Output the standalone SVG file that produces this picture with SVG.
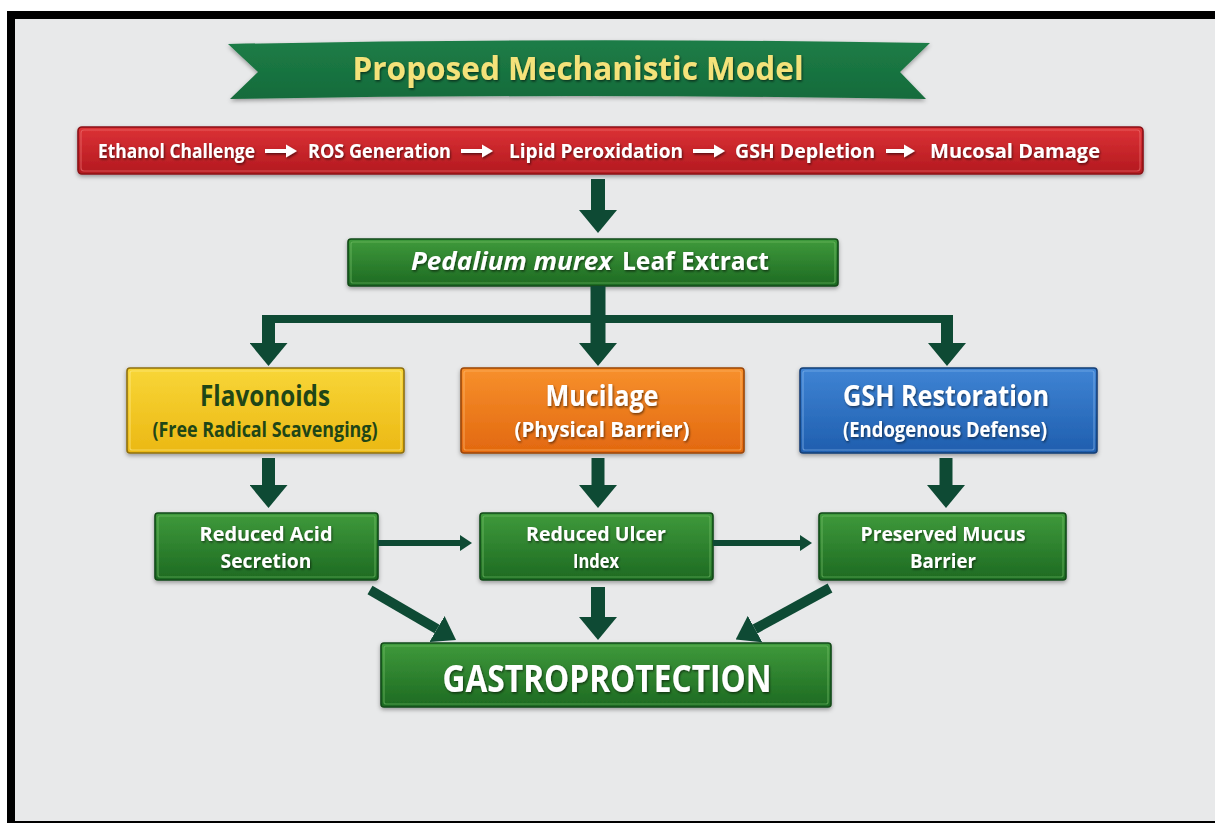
<svg xmlns="http://www.w3.org/2000/svg" width="1215" height="823" viewBox="0 0 1215 823">
  <defs>
    <linearGradient id="gGreen" x1="0" y1="0" x2="0" y2="1">
      <stop offset="0" stop-color="#3f9a3b"/>
      <stop offset="1" stop-color="#1d6a22"/>
    </linearGradient>
    <linearGradient id="gRed" x1="0" y1="0" x2="0" y2="1">
      <stop offset="0" stop-color="#dc3236"/>
      <stop offset="1" stop-color="#b3191f"/>
    </linearGradient>
    <linearGradient id="gYellow" x1="0" y1="0" x2="0" y2="1">
      <stop offset="0" stop-color="#f8d637"/>
      <stop offset="1" stop-color="#ebb814"/>
    </linearGradient>
    <linearGradient id="gOrange" x1="0" y1="0" x2="0" y2="1">
      <stop offset="0" stop-color="#f7902c"/>
      <stop offset="1" stop-color="#e2680f"/>
    </linearGradient>
    <linearGradient id="gBlue" x1="0" y1="0" x2="0" y2="1">
      <stop offset="0" stop-color="#3f84d4"/>
      <stop offset="1" stop-color="#1f5eae"/>
    </linearGradient>
    <linearGradient id="gBanner" x1="0" y1="0" x2="0" y2="1">
      <stop offset="0" stop-color="#1d7d47"/>
      <stop offset="1" stop-color="#156b3b"/>
    </linearGradient>
    <filter id="shadow" x="-10%" y="-20%" width="120%" height="150%">
      <feDropShadow dx="0" dy="2" stdDeviation="2" flood-color="#000" flood-opacity="0.35"/>
    </filter>
    <filter id="tshadow" x="-5%" y="-30%" width="110%" height="160%">
      <feDropShadow dx="1" dy="1.5" stdDeviation="0.8" flood-color="#000" flood-opacity="0.55"/>
    </filter>
    <marker id="headBig" viewBox="0 0 23 38" refX="0" refY="19" markerWidth="23" markerHeight="38" markerUnits="userSpaceOnUse" orient="auto">
      <path d="M0,0 L23,19 L0,38 Z" fill="#0e4a34"/>
    </marker>
    <marker id="headDiag" viewBox="0 0 22 30" refX="0" refY="15" markerWidth="22" markerHeight="30" markerUnits="userSpaceOnUse" orient="auto">
      <path d="M0,0 L22,15 L0,30 Z" fill="#0e4a34"/>
    </marker>
    <marker id="headThin" viewBox="0 0 12 16" refX="0" refY="8" markerWidth="12" markerHeight="16" markerUnits="userSpaceOnUse" orient="auto">
      <path d="M0,0 L12,8 L0,16 Z" fill="#0e4a34"/>
    </marker>
    <style>
      .bg { fill: #e8e9ea; }
      .frame { fill: #000; }
      .t { font-family: "Open Sans", "Liberation Sans", sans-serif; font-weight: 700; }
      .w { fill: #ffffff; filter: url(#tshadow); }
      .dk { fill: #1f4617; }
      .box { stroke-width: 1.6; filter: url(#shadow); }
      .hl { fill: none; stroke-width: 1.2; opacity: 0.55; }
      .green { fill: url(#gGreen); stroke: #124a18; }
      .greenhl { stroke: #7cc46f; }
      .arr { stroke: #0e4a34; fill: none; }
      .warr { fill: #ffffff; filter: url(#tshadow); }
    </style>
  </defs>

  <!-- background and frame -->
  <rect class="bg" x="0" y="0" width="1215" height="823"/>
  <rect x="0" y="0" width="1215" height="11" fill="#ffffff"/>
  <rect x="0" y="0" width="7" height="823" fill="#ffffff"/>
  <rect class="frame" x="7" y="11" width="1208" height="8"/>
  <rect class="frame" x="7" y="11" width="8" height="812"/>
  <rect class="frame" x="7" y="821" width="1208" height="2"/>

  <!-- title banner -->
  <g id="title">
    <path d="M228,44 Q579,37 930,43 L900,72 L926,99 Q579,93 230,99 L258,72 Z" fill="url(#gBanner)" filter="url(#shadow)"/>
    <text class="t" x="578" y="80" text-anchor="middle" font-size="32" textLength="451" lengthAdjust="spacingAndGlyphs" fill="#f4e27a" filter="url(#tshadow)">Proposed Mechanistic Model</text>
  </g>

  <!-- challenge chain -->
  <g id="challenge">
    <rect class="box" x="78" y="127" width="1065" height="47" rx="4" fill="url(#gRed)" stroke="#8a1217"/>
    <rect class="hl" x="81" y="130" width="1059" height="41" rx="3" stroke="#f07a7a"/>
    <text class="t w" y="158" font-size="20">
      <tspan x="98" textLength="157" lengthAdjust="spacingAndGlyphs">Ethanol Challenge</tspan>
      <tspan x="308" textLength="143" lengthAdjust="spacingAndGlyphs">ROS Generation</tspan>
      <tspan x="509" textLength="174" lengthAdjust="spacingAndGlyphs">Lipid Peroxidation</tspan>
      <tspan x="735" textLength="140" lengthAdjust="spacingAndGlyphs">GSH Depletion</tspan>
      <tspan x="930" textLength="170" lengthAdjust="spacingAndGlyphs">Mucosal Damage</tspan>
    </text>
    <path class="warr" d="M265,149 H286 V144.5 L297,151 L286,157.5 V153 H265 Z"/>
    <path class="warr" d="M461,149 H482 V144.5 L493,151 L482,157.5 V153 H461 Z"/>
    <path class="warr" d="M693,149 H714 V144.5 L725,151 L714,157.5 V153 H693 Z"/>
    <path class="warr" d="M886,149 H904 V144.5 L915,151 L904,157.5 V153 H886 Z"/>
  </g>

  <!-- extract -->
  <g id="extract">
    <rect class="box green" x="348" y="239" width="490" height="47" rx="3"/>
    <rect class="hl greenhl" x="351" y="242" width="484" height="41" rx="2"/>
    <text class="t w" y="270" font-size="25">
      <tspan x="411" font-style="italic" textLength="201" lengthAdjust="spacingAndGlyphs">Pedalium murex</tspan>
      <tspan x="622" textLength="147" lengthAdjust="spacingAndGlyphs">Leaf Extract</tspan>
    </text>
  </g>

  <!-- mechanism boxes -->
  <g id="flavonoids">
    <rect class="box" x="127" y="368" width="277" height="85" rx="3" fill="url(#gYellow)" stroke="#8f7010"/>
    <rect class="hl" x="130" y="371" width="271" height="79" rx="2" stroke="#fff09a"/>
    <text class="t dk" x="265" y="406" font-size="28" text-anchor="middle" textLength="130" lengthAdjust="spacingAndGlyphs">Flavonoids</text>
    <text class="t dk" x="265" y="437" font-size="21" text-anchor="middle" textLength="225" lengthAdjust="spacingAndGlyphs">(Free Radical Scavenging)</text>
  </g>
  <g id="mucilage">
    <rect class="box" x="461" y="368" width="283" height="85" rx="3" fill="url(#gOrange)" stroke="#9c4608"/>
    <rect class="hl" x="464" y="371" width="277" height="79" rx="2" stroke="#ffc07a"/>
    <text class="t w" x="602" y="406" font-size="28" text-anchor="middle" textLength="113" lengthAdjust="spacingAndGlyphs">Mucilage</text>
    <text class="t w" x="602" y="437" font-size="21" text-anchor="middle" textLength="175" lengthAdjust="spacingAndGlyphs">(Physical Barrier)</text>
  </g>
  <g id="gsh">
    <rect class="box" x="800" y="368" width="297" height="85" rx="3" fill="url(#gBlue)" stroke="#163f76"/>
    <rect class="hl" x="803" y="371" width="291" height="79" rx="2" stroke="#8fbdf0"/>
    <text class="t w" x="946" y="406" font-size="28" text-anchor="middle" textLength="206" lengthAdjust="spacingAndGlyphs">GSH Restoration</text>
    <text class="t w" x="945" y="437" font-size="21" text-anchor="middle" textLength="204" lengthAdjust="spacingAndGlyphs">(Endogenous Defense)</text>
  </g>

  <!-- outcome boxes -->
  <g id="acid">
    <rect class="box green" x="155" y="513" width="223" height="67" rx="3"/>
    <rect class="hl greenhl" x="158" y="516" width="217" height="61" rx="2"/>
    <text class="t w" x="266" y="541" font-size="19.5" text-anchor="middle" textLength="133" lengthAdjust="spacingAndGlyphs">Reduced Acid</text>
    <text class="t w" x="266" y="568" font-size="19.5" text-anchor="middle" textLength="91" lengthAdjust="spacingAndGlyphs">Secretion</text>
  </g>
  <g id="ulcer">
    <rect class="box green" x="480" y="513" width="233" height="67" rx="3"/>
    <rect class="hl greenhl" x="483" y="516" width="227" height="61" rx="2"/>
    <text class="t w" x="596" y="541" font-size="19.5" text-anchor="middle" textLength="140" lengthAdjust="spacingAndGlyphs">Reduced Ulcer</text>
    <text class="t w" x="596" y="568" font-size="19.5" text-anchor="middle" textLength="46" lengthAdjust="spacingAndGlyphs">Index</text>
  </g>
  <g id="mucus">
    <rect class="box green" x="819" y="513" width="247" height="67" rx="3"/>
    <rect class="hl greenhl" x="822" y="516" width="241" height="61" rx="2"/>
    <text class="t w" x="943" y="541" font-size="19.5" text-anchor="middle" textLength="165" lengthAdjust="spacingAndGlyphs">Preserved Mucus</text>
    <text class="t w" x="943" y="568" font-size="19.5" text-anchor="middle" textLength="66" lengthAdjust="spacingAndGlyphs">Barrier</text>
  </g>

  <!-- result -->
  <g id="gastroprotection">
    <rect class="box green" x="381" y="643" width="450" height="64" rx="3"/>
    <rect class="hl greenhl" x="384" y="646" width="444" height="58" rx="2"/>
    <text class="t w" x="607" y="692" font-size="38" text-anchor="middle" textLength="329" lengthAdjust="spacingAndGlyphs">GASTROPROTECTION</text>
  </g>

  <!-- connectors -->
  <g id="connectors">
    <line class="arr" x1="598" y1="179" x2="598" y2="210" stroke-width="14" marker-end="url(#headBig)"/>
    <line class="arr" x1="598" y1="286" x2="598" y2="343" stroke-width="15" marker-end="url(#headBig)"/>
    <line class="arr" x1="262" y1="319" x2="953" y2="319" stroke-width="8"/>
    <line class="arr" x1="268.5" y1="315" x2="268.5" y2="343" stroke-width="13" marker-end="url(#headBig)"/>
    <line class="arr" x1="947" y1="315" x2="947" y2="343" stroke-width="12" marker-end="url(#headBig)"/>

    <line class="arr" x1="268.5" y1="458" x2="268.5" y2="485" stroke-width="13" marker-end="url(#headBig)"/>
    <line class="arr" x1="598" y1="458" x2="598" y2="485" stroke-width="13" marker-end="url(#headBig)"/>
    <line class="arr" x1="946" y1="458" x2="946" y2="485" stroke-width="13" marker-end="url(#headBig)"/>

    <line class="arr" x1="378" y1="543" x2="460" y2="543" stroke-width="6" marker-end="url(#headThin)"/>
    <line class="arr" x1="713" y1="543" x2="800" y2="543" stroke-width="6" marker-end="url(#headThin)"/>

    <line class="arr" x1="370" y1="590" x2="437" y2="629" stroke-width="10" marker-end="url(#headDiag)"/>
    <line class="arr" x1="598" y1="587" x2="598" y2="617" stroke-width="14" marker-end="url(#headBig)"/>
    <line class="arr" x1="830" y1="588" x2="755" y2="629" stroke-width="10" marker-end="url(#headDiag)"/>
  </g>
</svg>
